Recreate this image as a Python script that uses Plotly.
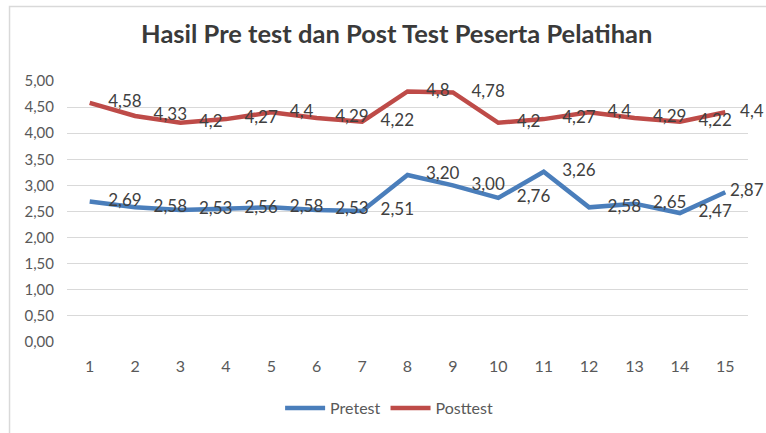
import plotly.graph_objects as go

categories = list(range(1, 16))
pretest = [2.69, 2.58, 2.53, 2.56, 2.58, 2.53, 2.51, 3.20, 3.00, 2.76, 3.26, 2.58, 2.65, 2.47, 2.87]
posttest = [4.58, 4.33, 4.2, 4.27, 4.4, 4.29, 4.22, 4.8, 4.78, 4.2, 4.27, 4.4, 4.29, 4.22, 4.4]
y_ticks = [0, 0.5, 1, 1.5, 2, 2.5, 3, 3.5, 4, 4.5, 5]

pre_text = [f"{v:.2f}".replace(".", ",") for v in pretest]
post_text = [("%g" % v).replace(".", ",") for v in posttest]

FONT = "Lato, Liberation Sans, Arial"

fig = go.Figure()
fig.add_trace(go.Scatter(
    x=categories, y=pretest, name="Pretest", mode="lines+markers+text",
    line=dict(color="#4A7EBB", width=4.5),
    marker=dict(size=[28] * 14 + [6], color="rgba(0,0,0,0)",
                line=dict(width=0, color="rgba(0,0,0,0)")),
    text=pre_text, textposition="middle right",
    textfont=dict(family=FONT, size=17, color="#404040"),
    cliponaxis=False,
))
fig.add_trace(go.Scatter(
    x=categories, y=posttest, name="Posttest", mode="lines+markers+text",
    line=dict(color="#BE4B48", width=4.5),
    marker=dict(size=[28] * 14 + [22], color="rgba(0,0,0,0)",
                line=dict(width=0, color="rgba(0,0,0,0)")),
    text=post_text, textposition="middle right",
    textfont=dict(family=FONT, size=17, color="#404040"),
    cliponaxis=False,
))

fig.update_layout(
    width=766, height=433,
    margin=dict(l=67, r=18, t=81, b=91),
    paper_bgcolor="white", plot_bgcolor="white",
    separators=",.",
    title=dict(text="<b>Hasil Pre test dan Post Test Peserta Pelatihan</b>",
               x=0.518, xanchor="center", y=1 - 34 / 433, yanchor="middle",
               font=dict(family=FONT, size=25.5, color="#3A3A3A")),
    showlegend=True,
    legend=dict(orientation="h", xref="paper", x=0.473, xanchor="center",
                yref="container", y=1 - 408 / 433, yanchor="middle",
                font=dict(family=FONT, size=16, color="#595959"),
                itemwidth=40, tracegroupgap=0, bgcolor="rgba(0,0,0,0)"),
    shapes=[dict(type="rect", xref="paper", yref="paper",
                 x0=-0.0844, x1=1.2, y0=-0.6, y1=1.2854,
                 line=dict(color="#D9D9D9", width=1.5), layer="below")],
)
fig.update_xaxes(range=[0.5, 15.5], tickmode="array", tickvals=categories,
                 ticktext=[str(c) for c in categories], showgrid=False,
                 zeroline=False, showline=False, ticks="", ticklen=0,
                 ticklabelstandoff=13, automargin=False,
                 tickfont=dict(family=FONT, size=16, color="#595959"))
fig.update_yaxes(range=[0, 5], tickmode="array", tickvals=y_ticks,
                 tickformat=".2f", showgrid=True, gridcolor="#D9D9D9", gridwidth=1,
                 zeroline=False, showline=False, ticks="",
                 ticklabelstandoff=12, automargin=False,
                 tickfont=dict(family=FONT, size=15, color="#595959"))

fig.write_html("out.html", config={"displayModeBar": False},
               post_script="document.body.style.margin='0';document.body.style.overflow='hidden';")
